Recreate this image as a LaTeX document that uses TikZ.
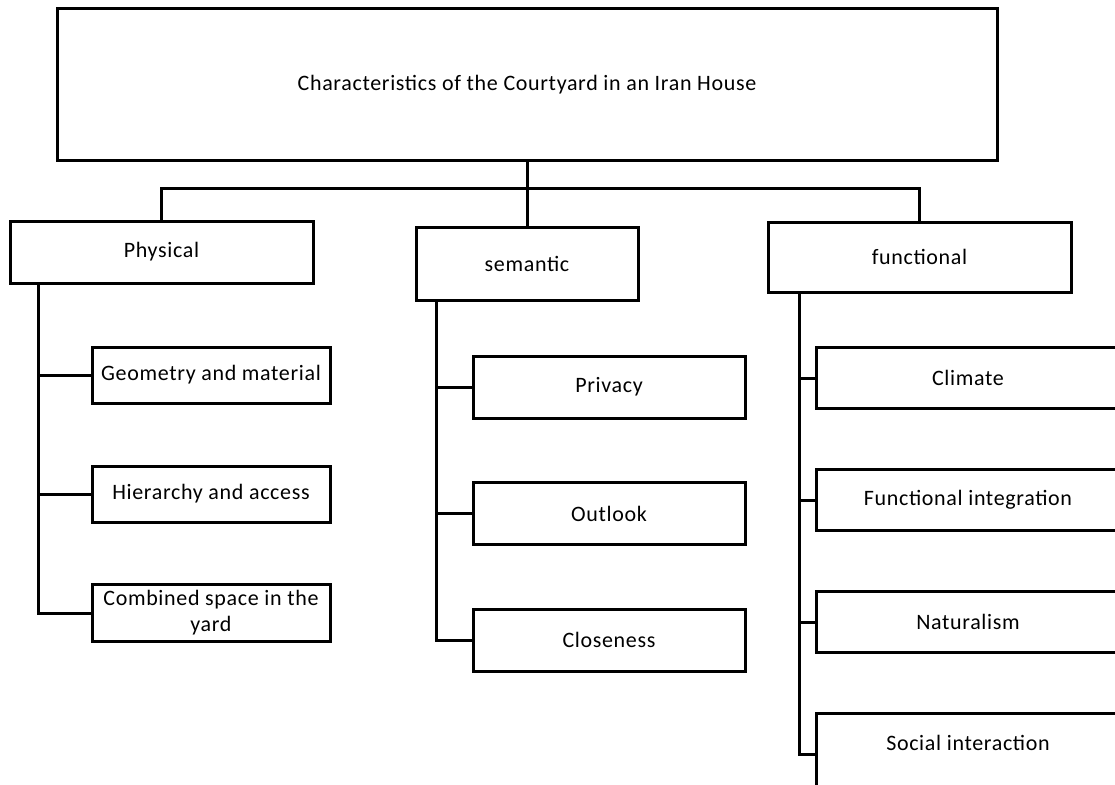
\documentclass[tikz,border=0pt]{standalone}
\usepackage{fontspec}
\setmainfont{Carlito}[LetterSpace=3]
\usetikzlibrary{positioning}

\begin{document}
\begin{tikzpicture}[x=1pt,y=-1pt,on grid,
    box/.style={draw,rectangle,line width=3pt,inner sep=2pt,align=center,
      font=\fontsize{22}{26}\selectfont},
    link/.style={line width=3pt}]
  \useasboundingbox (0,0) rectangle (1115,784);
  \clip (0,0) rectangle (1115,784);

  \node[box,minimum width=940pt,minimum height=151pt] (top) at (527,84.5)
    {Characteristics of the Courtyard in an Iran House};

  \node[box,minimum width=303pt,minimum height=62pt] (phys) at (161.5,252) {Physical};
  \node[box,minimum width=222pt,minimum height=73pt] (sem) at (527,263.5) {semantic};
  \node[box,minimum width=303pt,minimum height=70pt] (func) at (919.5,257) {functional};

  % physical
  \node[box,minimum width=238pt,minimum height=56pt] (p_1) at (211,375) {Geometry and material};
  \node[box,minimum width=238pt,minimum height=56pt] (p_2) [below=119pt of p_1] {Hierarchy and access};
  \node[box,minimum width=238pt,minimum height=57pt] (p_3) [below=119pt of p_2] {Combined space in the\\yard};

  % semantic
  \node[box,minimum width=272pt,minimum height=62pt] (s_1) at (609,387) {Privacy};
  \node[box,minimum width=272pt,minimum height=62pt] (s_2) [below=126.5pt of s_1] {Outlook};
  \node[box,minimum width=272pt,minimum height=62pt] (s_3) [below=126.5pt of s_2] {Closeness};

  % functional
  \node[box,minimum width=304pt,minimum height=61pt] (f_1) at (968,378) {Climate};
  \node[box,minimum width=304pt,minimum height=61pt] (f_2) [below=122pt of f_1] {Functional integration};
  \node[box,minimum width=304pt,minimum height=61pt] (f_3) [below=122pt of f_2] {Naturalism};
  \node[box,minimum width=304pt,inner ysep=0pt,text height=37pt,text depth=45pt,anchor=base] (f_4) at (968,750) {Social interaction};

  \coordinate (bar) at (527,188);
  \draw[link] (top) -- (bar) -| (phys);
  \draw[link] (bar) -| (func);
  \draw[link] (bar) -- (sem);

  \coordinate (ps) at ([xshift=30pt]phys.south west);
  \draw[link] (ps) |- (p_3);
  \draw[link] (ps |- p_1) -- (p_1);
  \draw[link] (ps |- p_2) -- (p_2);

  \coordinate (ss) at ([xshift=22pt]sem.south west);
  \draw[link] (ss) |- (s_3);
  \draw[link] (ss |- s_1) -- (s_1);
  \draw[link] (ss |- s_2) -- (s_2);

  \coordinate (fs) at ([xshift=33pt]func.south west);
  \draw[link] (fs) |- (f_4);
  \draw[link] (fs |- f_1) -- (f_1);
  \draw[link] (fs |- f_2) -- (f_2);
  \draw[link] (fs |- f_3) -- (f_3);
\end{tikzpicture}
\end{document}
